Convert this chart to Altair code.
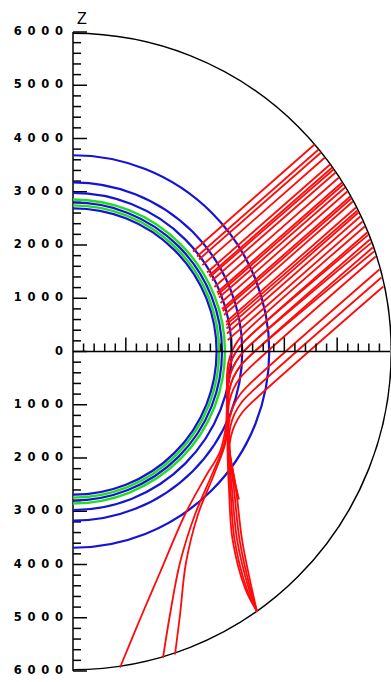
import math
import altair as alt
import pandas as pd

# Shell boundaries (radius in km)
BLUE_SHELLS = [2700, 2810, 2990, 3190, 3700]
GREEN_SHELLS = [2755, 2865]
SURFACE = [6000]

# Straight rays leaving the core boundary: start (x, z) -> surface point (x, z)
UP_X0 = [2272, 2347, 2385, 2450, 2537, 2574, 2590, 2631, 2676, 2726, 2740, 2764, 2792, 2821,
         2835, 2858, 2896, 2900, 2905, 2915, 2928]
UP_Z0 = [1878, 1784, 1728, 1621, 1484, 1427, 1400, 1333, 1212, 1108, 1070, 1014, 910, 798,
         760, 685, 554, 500, 431, 338, 214]
UP_X1 = [4571, 4648, 4694, 4768, 4865, 4905, 4931, 4970, 5032, 5092, 5115, 5149, 5193, 5247,
         5268, 5297, 5356, 5384, 5403, 5438, 5481]
UP_Z1 = [3887, 3794, 3737, 3643, 3512, 3456, 3418, 3362, 3268, 3174, 3136, 3080, 3005, 2911,
         2873, 2817, 2704, 2648, 2610, 2535, 2441]

# Turning rays (x, z) in km, from the lower surface up through the bend
RAY_M = [(3483, -4883), (3388, -4470), (3199, -3531), (3086, -2592), (2962, -1840), (2930, -1100),
         (2915, -445), (2940, -210), (3017, 23), (3144, 233), (3305, 406), (5522, 2348)]
RAY_N = [(3483, -4883), (3360, -4470), (3152, -3531), (3048, -2592), (2953, -1840), (2925, -1200),
         (2915, -599), (2940, -364), (3017, -131), (3144, 79), (3305, 252), (5568, 2235)]
RAY_O = [(3483, -4883), (3332, -4470), (3105, -3531), (3010, -2592), (2944, -1840), (2925, -1300),
         (2925, -766), (2949, -531), (3027, -299), (3154, -88), (3315, 85), (5620, 2103)]
RAY_P = [(3483, -4883), (3294, -4470), (3058, -3531), (2981, -2592), (2934, -1840), (2930, -1400),
         (2934, -956), (2959, -721), (3036, -488), (3163, -278), (3324, -105), (5673, 1953)]
RAY_Q = [(3483, -4883), (3266, -4470), (3020, -3531), (2953, -2592), (2925, -1840), (2930, -1500),
         (2934, -1174), (2959, -939), (3036, -706), (3163, -496), (3324, -323), (5729, 1784)]
RAY_R = [(3123, -2723), (2991, -2122), (2944, -1470), (2968, -1236), (3046, -1003), (3173, -793),
         (3334, -620), (5799, 1540)]
RAY_S = [(3142, -2779), (3010, -2216), (2953, -1645), (2978, -1410), (3055, -1178), (3182, -967),
         (3343, -794), (5837, 1390)]
RAY_T = [(3105, -2648), (3029, -2254), (2962, -1839), (2987, -1604), (3065, -1371), (3192, -1161),
         (3353, -988), (5874, 1221)]
RAY_B1 = [(890, -5934), (1306, -4939), (1647, -4150), (2120, -3061), (2499, -2366), (2783, -1878),
          (2896, -1371), (2915, -599), (2940, -364), (3017, -131), (3144, 79), (3305, 252), (5590, 2190)]
RAY_B2 = [(1704, -5747), (1836, -4939), (2026, -3963), (2309, -3061), (2631, -2310), (2858, -1747),
          (2925, -1277), (2925, -766), (2949, -531), (3027, -299), (3154, -88), (3315, 85), (5645, 2040)]
RAY_B3 = [(1931, -5690), (2026, -4939), (2139, -3963), (2366, -3061), (2669, -2310), (2877, -1747),
          (2934, -1371), (2934, -956), (2959, -721), (3036, -488), (3163, -278), (3324, -105), (5700, 1880)]

# Axis ticks (km)
Y_LABELS = list(range(-6000, 6001, 1000))
Y_MINOR = [v for v in range(-6000, 6001, 200) if v % 1000]
X_MAJOR = [1000, 2000, 3000, 4000, 5000]
X_MINOR = [v for v in range(200, 6000, 200) if v % 1000]
AXIS_TITLE = "Z"

W, H = 317, 639
MAJOR_PX, MINOR_PX = 14, 8
KM_PER_PX_Z = 12000 / H

xs = alt.Scale(domain=[0, 6000], nice=False, zero=False)
ys = alt.Scale(domain=[-6000, 6000], nice=False, zero=False)
rs = alt.Scale(type="linear", domain=[0, 6000], range=[0, (W / 6000 + H / 12000) / 2 * 6000])

# ---- ray table
rows = []
for k in range(len(UP_X0)):
    rows.append({"ray": f"u{k}", "i": 0, "x": UP_X0[k], "z": UP_Z0[k]})
    rows.append({"ray": f"u{k}", "i": 1, "x": UP_X1[k], "z": UP_Z1[k]})
for name, pts in [("m", RAY_M), ("n", RAY_N), ("o", RAY_O), ("p", RAY_P), ("q", RAY_Q),
                  ("r", RAY_R), ("s", RAY_S), ("t", RAY_T),
                  ("b1", RAY_B1), ("b2", RAY_B2), ("b3", RAY_B3)]:
    for i, (x, z) in enumerate(pts):
        rows.append({"ray": name, "i": i, "x": x, "z": z})
rays_df = pd.DataFrame(rows)


def shells(radii, color, width):
    df = pd.DataFrame({"r": radii})
    return alt.Chart(df).mark_arc(
        theta=0, theta2=math.pi, fillOpacity=0, stroke=color, strokeWidth=width
    ).encode(
        x=alt.X(datum=0, scale=xs, axis=None),
        y=alt.Y(datum=0, scale=ys, axis=None),
        radius=alt.Radius("r:Q", scale=rs),
        radius2=alt.Radius2("r:Q"),
    )


# depth labels: absolute value, digits spread apart
label_df = pd.DataFrame({
    "z": Y_LABELS,
    "label": ["\u2002".join(str(abs(v))) for v in Y_LABELS],
})
y_labels = alt.Chart(label_df).mark_text(
    align="right", baseline="middle", font="DejaVu Sans", fontWeight="bold",
    fontSize=11.5, color="black",
).encode(
    x=alt.value(-10),
    y=alt.Y("z:Q", scale=ys, axis=None),
    text="label:N",
)
z_title = alt.Chart(pd.DataFrame({"t": [AXIS_TITLE]})).mark_text(
    align="left", baseline="alphabetic", font="Liberation Sans", fontSize=16, color="black",
).encode(x=alt.value(4), y=alt.value(-8), text="t:N")

y_major = alt.Chart(pd.DataFrame({"z": Y_LABELS})).mark_rule(color="black", strokeWidth=1.5).encode(
    x=alt.value(0), x2=alt.value(MAJOR_PX), y=alt.Y("z:Q", scale=ys, axis=None)
)
y_minor = alt.Chart(pd.DataFrame({"z": Y_MINOR})).mark_rule(color="black", strokeWidth=1.5).encode(
    x=alt.value(0), x2=alt.value(MINOR_PX), y=alt.Y("z:Q", scale=ys, axis=None)
)
y_line = alt.Chart(pd.DataFrame({"z": [-6000], "z2": [6000]})).mark_rule(
    color="black", strokeWidth=1.5
).encode(x=alt.value(0), y=alt.Y("z:Q", scale=ys, axis=None), y2="z2:Q")

x_line = alt.Chart(pd.DataFrame({"x": [0], "x2": [6000]})).mark_rule(color="black", strokeWidth=1.5).encode(
    x=alt.X("x:Q", scale=xs, axis=None), x2="x2:Q", y=alt.Y(datum=0, scale=ys, axis=None)
)
x_major = alt.Chart(pd.DataFrame({"x": X_MAJOR})).mark_rule(color="black", strokeWidth=1.5).encode(
    x=alt.X("x:Q", scale=xs, axis=None),
    y=alt.Y(datum=0, scale=ys, axis=None),
    y2=alt.Y2(datum=MAJOR_PX * KM_PER_PX_Z),
)
x_minor = alt.Chart(pd.DataFrame({"x": X_MINOR})).mark_rule(color="black", strokeWidth=1.5).encode(
    x=alt.X("x:Q", scale=xs, axis=None),
    y=alt.Y(datum=0, scale=ys, axis=None),
    y2=alt.Y2(datum=MINOR_PX * KM_PER_PX_Z),
)

ray_lines = alt.Chart(rays_df).mark_line(
    color="#ff0a0a", strokeWidth=1.8, interpolate="catmull-rom"
).encode(
    x=alt.X("x:Q", scale=xs, axis=None),
    y=alt.Y("z:Q", scale=ys, axis=None),
    detail="ray:N",
    order="i:Q",
)

chart = alt.layer(
    y_major,
    y_minor,
    y_line,
    y_labels,
    z_title,
    shells(GREEN_SHELLS, "#22dd22", 2.4),
    shells(BLUE_SHELLS, "#1414d2", 2.2),
    shells(SURFACE, "black", 1.5),
    ray_lines,
    x_line, x_major, x_minor,
).properties(
    width=W, height=H,
    background="white",
    padding={"left": 73, "top": 32, "right": 1, "bottom": 11},
    autosize=alt.AutoSizeParams(type="none"),
).configure_view(stroke=None)

chart.save("out.html", embed_options={"renderer": "svg", "actions": False})
